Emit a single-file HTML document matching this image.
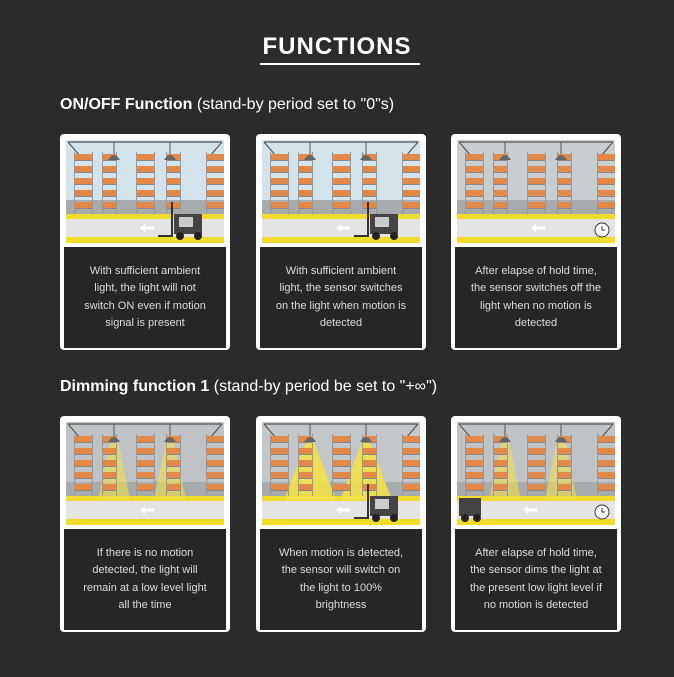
<!DOCTYPE html>
<html><head><meta charset="utf-8"><style>
body{margin:0;width:674px;height:677px;background:#2b2b2b;font-family:"Liberation Sans",sans-serif;position:relative;overflow:hidden}
.t{position:absolute;left:0;width:674px;text-align:center;top:33px;color:#fff;font-size:24px;font-weight:bold;letter-spacing:1px}
.u{position:absolute;left:260px;width:160px;top:63px;height:2px;background:#fff}
.h{position:absolute;left:60px;color:#fff;font-size:16px}
.h b{font-weight:bold}
.card{position:absolute;width:166px;height:212px;background:#fff;border-radius:4px;padding:2px}
.img{position:absolute;left:6px;top:6px;width:158px;height:103px}
.txt{position:absolute;left:4px;top:113px;width:162px;height:101px;background:#262626;color:#dcdcdc;font-size:11px;line-height:17.5px;text-align:center;display:flex;align-items:center;justify-content:center}
</style></head><body>
<div class="t">FUNCTIONS</div><div class="u"></div>
<div class="h" style="top:96px"><b>ON/OFF Function</b> (stand-by period set to "0"s)</div>
<div class="h" style="top:378px"><b>Dimming function 1</b> (stand-by period be set to "+∞")</div>

<div class="card" style="left:60px;top:134px"><svg class="img" data-k="0"></svg><div class="txt">With sufficient ambient<br>light, the light will not<br>switch ON even if motion<br>signal is present</div></div>
<div class="card" style="left:256px;top:134px"><svg class="img" data-k="1"></svg><div class="txt">With sufficient ambient<br>light, the sensor switches<br>on the light when motion is<br>detected</div></div>
<div class="card" style="left:451px;top:134px"><svg class="img" data-k="2"></svg><div class="txt">After elapse of hold time,<br>the sensor switches off the<br>light when no motion is<br>detected</div></div>
<div class="card" style="left:60px;top:416px"><svg class="img" data-k="3"></svg><div class="txt">If there is no motion<br>detected, the light will<br>remain at a low level light<br>all the time</div></div>
<div class="card" style="left:256px;top:416px"><svg class="img" data-k="4"></svg><div class="txt">When motion is detected,<br>the sensor will switch on<br>the light to 100%<br>brightness</div></div>
<div class="card" style="left:451px;top:416px"><svg class="img" data-k="5"></svg><div class="txt">After elapse of hold time,<br>the sensor dims the light at<br>the present low light level if<br>no motion is detected</div></div>
<script>
document.querySelectorAll('svg.img').forEach(s=>{
 const k=+s.dataset.k;
 s.setAttribute('viewBox','0 0 158 103');
 const sky=[ '#d3e3ec','#d3e3ec','#c8cdd0','#bfc3c6','#c4c7c9','#bfc3c6'][k];
 let h=`<rect width="158" height="103" fill="${sky}"/>`;
 h+=`<rect y="60" width="158" height="18" fill="#a7abae"/>`;
 h+=`<rect y="74" width="158" height="29" fill="#e4e4e4"/><rect y="74" width="158" height="5" fill="#f1dc2a"/><rect y="97" width="158" height="6" fill="#f1dc2a"/>`;
 h+=`<path d="M2 2H156M2 2L14 16M156 2L144 16" stroke="#555" stroke-width="1.2" fill="none"/>`;
 if(k>=3){const big=k==4;[48,104].forEach(x=>{h+=`<path d="M${x-4} 20L${x-(big?26:16)} 78H${x+(big?26:16)}L${x+4} 20Z" fill="#f2e04a" opacity="${big?0.9:0.6}"/>`;});}
 [8,36,70,100,140].forEach((x,i)=>{const w=i%2?14:18;for(let y=14;y<72;y+=12){h+=`<rect x="${x}" y="${y}" width="${w}" height="6" fill="#e2894a"/><rect x="${x}" y="${y+6}" width="${w}" height="1" fill="#888"/>`;}h+=`<rect x="${x}" y="12" width="1" height="62" fill="#999"/><rect x="${x+w}" y="12" width="1" height="62" fill="#999"/>`;});
 [48,104].forEach(x=>{h+=`<line x1="${x}" y1="2" x2="${x}" y2="14" stroke="#555"/><path d="M${x-6} 20Q${x} 10 ${x+6} 20Z" fill="#666"/>`;});
 h+=`<path d="M${k==5?70:78} 88h10" stroke="#fff" stroke-width="3"/><path d="M${k==5?66:74} 88l5-4v8z" fill="#fff"/>`;
 if(k==0||k==1||k==4){h+=`<rect x="108" y="74" width="28" height="20" fill="#444"/><rect x="113" y="77" width="14" height="10" fill="#ccc"/><circle cx="114" cy="96" r="4" fill="#222"/><circle cx="132" cy="96" r="4" fill="#222"/><path d="M106 62v34h-14" stroke="#333" stroke-width="2" fill="none"/>`;}
 if(k==5){h+=`<rect x="2" y="76" width="22" height="18" fill="#444"/><circle cx="8" cy="96" r="4" fill="#222"/><circle cx="20" cy="96" r="4" fill="#222"/>`;}
 if(k==2||k==5){h+=`<circle cx="145" cy="90" r="7" fill="#fff" stroke="#333"/><path d="M145 86v4h3" stroke="#333" fill="none"/>`;}
 s.innerHTML=h;});
</script>
</body></html>
